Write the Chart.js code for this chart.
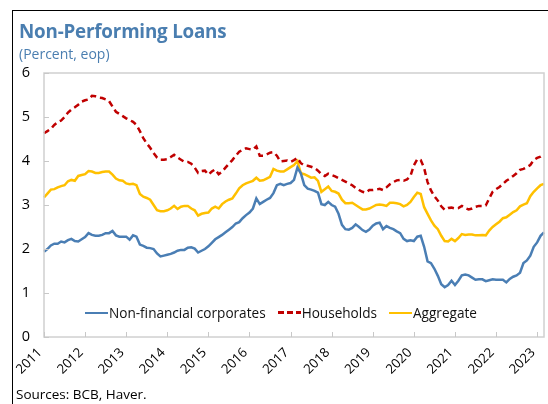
<!DOCTYPE html>
<html>
<head>
<meta charset="utf-8">
<script src="https://cdn.jsdelivr.net/npm/chart.js@4.4.1/dist/chart.umd.min.js"></script>
<style>
  html, body { margin: 0; padding: 0; background: #ffffff; }
  #wrap { position: relative; width: 548px; height: 404px; overflow: hidden; background: #fff; font-family: "Open Sans", "Noto Sans", sans-serif; }
  #frame { position: absolute; left: 12px; top: 10px; width: 600px; height: 500px; border-left: 1.5px solid #000; border-top: 1.5px solid #000; box-sizing: border-box; }
  #title { position: absolute; left: 19px; top: 18px; font-size: 18.8px; font-weight: 700; color: #4a7eb0; white-space: nowrap; letter-spacing: -0.2px; }
  #subtitle { position: absolute; left: 19px; top: 44px; font-size: 14px; color: #4a7eb0; white-space: nowrap; }
  #source { position: absolute; left: 16px; top: 385px; font-size: 13.5px; color: #000; white-space: nowrap; }
  #chart { position: absolute; left: 0; top: 0; }
  #legend { position: absolute; left: 85px; top: 303px; display: flex; align-items: center; font-size: 13.6px; color: #111; white-space: nowrap; }
  .item { display: flex; align-items: center; margin-right: 12px; }
  .sw { width: 23px; height: 0; margin-right: 1px; }
</style>
</head>
<body>
<div id="wrap">
  <canvas id="chart" width="548" height="404"></canvas>
  <div id="frame"></div>
  <div id="title">Non-Performing Loans</div>
  <div id="subtitle">(Percent, eop)</div>
  <div id="legend"></div>
  <div id="source">Sources: BCB, Haver.</div>
</div>
<script>
// ---- data (monthly, Jan 2011 - Mar 2023) ----
const years = ['2011','2012','2013','2014','2015','2016','2017','2018','2019','2020','2021','2022','2023'];
const monthNames = ['Jan','Feb','Mar','Apr','May','Jun','Jul','Aug','Sep','Oct','Nov','Dec'];
const nPoints = 147;
const categories = [];
for (let i = 0; i < nPoints; i++) {
  categories.push(monthNames[i % 12] + '-' + years[Math.floor(i / 12)]);
}
const yTicks = [0, 1, 2, 3, 4, 5, 6];

const seriesNames = ['Non-financial corporates', 'Households', 'Aggregate'];

const nonFinancialCorporates = [
  1.94,2.00,2.08,2.12,2.12,2.17,2.15,2.20,2.23,2.18,2.17,2.22,
  2.27,2.36,2.32,2.30,2.30,2.32,2.36,2.36,2.41,2.31,2.28,2.28,
  2.28,2.21,2.31,2.28,2.10,2.07,2.03,2.02,2.00,1.90,1.83,1.85,
  1.87,1.89,1.92,1.96,1.98,1.98,2.03,2.04,2.01,1.92,1.96,2.00,
  2.06,2.14,2.22,2.27,2.32,2.38,2.44,2.50,2.58,2.61,2.70,2.77,
  2.83,2.92,3.15,3.02,3.07,3.12,3.16,3.27,3.45,3.48,3.45,3.48,
  3.50,3.57,3.85,3.72,3.45,3.37,3.35,3.32,3.28,3.02,3.00,3.07,
  3.00,2.96,2.80,2.55,2.45,2.44,2.48,2.56,2.50,2.43,2.39,2.44,
  2.53,2.58,2.60,2.45,2.52,2.48,2.45,2.40,2.36,2.23,2.18,2.20,
  2.18,2.28,2.30,2.05,1.72,1.68,1.55,1.39,1.20,1.13,1.18,1.28,
  1.18,1.28,1.40,1.42,1.40,1.35,1.30,1.31,1.31,1.27,1.29,1.31,
  1.30,1.30,1.30,1.24,1.32,1.37,1.40,1.46,1.68,1.74,1.85,2.05,
  2.15,2.30,2.38
];

const households = [
  4.63,4.68,4.73,4.82,4.88,4.92,5.00,5.10,5.17,5.22,5.28,5.35,
  5.38,5.40,5.48,5.47,5.44,5.43,5.40,5.36,5.24,5.12,5.07,5.02,
  4.97,4.93,4.89,4.82,4.68,4.52,4.40,4.30,4.18,4.08,4.03,4.03,
  4.04,4.09,4.14,4.08,4.03,3.98,3.98,3.94,3.85,3.73,3.77,3.78,
  3.69,3.76,3.81,3.70,3.76,3.85,3.94,4.02,4.12,4.21,4.25,4.29,
  4.27,4.26,4.33,4.12,4.12,4.15,4.19,4.20,4.12,3.99,4.00,4.01,
  3.98,4.02,4.07,3.95,3.90,3.89,3.87,3.84,3.78,3.70,3.66,3.71,
  3.68,3.65,3.61,3.57,3.53,3.49,3.45,3.39,3.34,3.30,3.28,3.34,
  3.34,3.35,3.37,3.34,3.40,3.47,3.52,3.56,3.57,3.55,3.58,3.66,
  3.90,4.04,4.02,3.84,3.52,3.33,3.20,3.10,2.97,2.89,2.93,2.94,
  2.92,2.93,2.98,2.93,2.90,2.92,2.96,2.98,2.98,2.99,3.15,3.30,
  3.36,3.41,3.48,3.55,3.60,3.66,3.72,3.80,3.82,3.86,3.91,4.02,
  4.07,4.10,4.15
];

const aggregate = [
  3.17,3.26,3.35,3.36,3.40,3.43,3.45,3.54,3.57,3.55,3.66,3.68,
  3.70,3.77,3.76,3.73,3.73,3.75,3.76,3.76,3.69,3.60,3.56,3.55,
  3.49,3.47,3.48,3.45,3.25,3.19,3.16,3.12,3.00,2.88,2.86,2.86,
  2.88,2.92,2.98,2.91,2.96,2.98,2.98,2.92,2.88,2.76,2.80,2.82,
  2.83,2.92,2.96,2.92,3.02,3.08,3.12,3.15,3.26,3.38,3.45,3.49,
  3.52,3.55,3.62,3.55,3.56,3.60,3.64,3.82,3.78,3.76,3.76,3.81,
  3.86,3.91,4.00,3.72,3.70,3.66,3.62,3.63,3.55,3.30,3.36,3.42,
  3.32,3.30,3.26,3.12,3.04,3.04,3.05,3.00,2.95,2.90,2.90,2.92,
  2.96,3.00,3.01,3.00,2.98,3.05,3.05,3.04,3.02,2.97,3.00,3.07,
  3.18,3.28,3.25,2.95,2.80,2.65,2.53,2.45,2.30,2.18,2.17,2.23,
  2.18,2.25,2.34,2.32,2.33,2.33,2.31,2.31,2.32,2.31,2.42,2.50,
  2.56,2.62,2.70,2.72,2.78,2.84,2.88,2.97,3.01,3.04,3.20,3.30,
  3.38,3.45,3.48
];

// ---- styles ----
const colors = ['#4a7eb4', '#c00000', '#ffc000'];
const dashes = [[], [6, 4], []];

// ---- legend (HTML) ----
const legendEl = document.getElementById('legend');
seriesNames.forEach((name, k) => {
  const item = document.createElement('div');
  item.className = 'item';
  const sw = document.createElement('div');
  sw.className = 'sw';
  sw.style.borderTop = '2.5px solid ' + colors[k];
  if (k === 1) { sw.style.borderTop = 'none'; sw.style.height = '2.5px';
    sw.style.background = 'repeating-linear-gradient(90deg,' + colors[k] + ' 0 6px, transparent 6px 9px)'; }
  const tx = document.createElement('span');
  tx.textContent = name;
  item.appendChild(sw); item.appendChild(tx);
  legendEl.appendChild(item);
});

// ---- frame + inside ticks plugin ----
const framePlugin = {
  id: 'frameTicks',
  afterDraw(chart) {
    const { ctx, chartArea: a, scales } = chart;
    ctx.save();
    ctx.strokeStyle = '#d0d0d0';
    ctx.lineWidth = 1.5;
    ctx.strokeRect(a.left, a.top, a.right - a.left, a.bottom - a.top);
    ctx.strokeStyle = '#c8c8c8';
    ctx.lineWidth = 1;
    ctx.beginPath();
    yTicks.forEach(v => {
      const y = Math.round(scales.y.getPixelForValue(v)) + 0.5;
      ctx.moveTo(a.left, y); ctx.lineTo(a.left + 5, y);
    });
    years.forEach((yr, k) => {
      const x = Math.round(scales.x.getPixelForValue(k * 12)) + 0.5;
      ctx.moveTo(x, a.bottom); ctx.lineTo(x, a.bottom - 5);
    });
    ctx.stroke();
    ctx.restore();
  }
};

const seriesData = [nonFinancialCorporates, households, aggregate];

new Chart(document.getElementById('chart'), {
  type: 'line',
  data: {
    labels: categories,
    datasets: seriesData.map((d, k) => ({
      label: seriesNames[k],
      data: d,
      borderColor: colors[k],
      backgroundColor: colors[k],
      borderWidth: 2.5,
      borderDash: dashes[k],
      pointRadius: 0,
      tension: 0,
      fill: false,
      order: k === 0 ? 1 : (k === 1 ? 2 : 3)
    }))
  },
  options: {
    responsive: false,
    animation: false,
    devicePixelRatio: 1,
    layout: { padding: { left: 18, right: 4, top: 73, bottom: 27 } },
    plugins: { legend: { display: false }, tooltip: { enabled: false }, title: { display: false } },
    scales: {
      x: {
        type: 'category',
        offset: false,
        grid: { display: false, drawTicks: false },
        border: { display: false },
        ticks: {
          autoSkip: false,
          maxRotation: 45,
          minRotation: 45,
          padding: 8,
          labelOffset: -4,
          color: '#000',
          font: { family: '"Open Sans", "Noto Sans", sans-serif', size: 13.2 },
          callback: function (val, idx) { return idx % 12 === 0 ? years[idx / 12] : null; }
        },
        afterFit(scale) { scale.height = 40; scale.paddingLeft = 0; scale.paddingRight = 0; scale.paddingTop = 0; scale.paddingBottom = 0; }
      },
      y: {
        min: 0,
        max: 6,
        grid: { display: false, drawTicks: false },
        border: { display: false },
        ticks: {
          stepSize: 1,
          padding: 14,
          color: '#000',
          font: { family: '"Open Sans", "Noto Sans", sans-serif', size: 14.5 },
          callback: v => String(v)
        },
        afterFit(scale) { scale.width = 26; scale.paddingTop = 0; scale.paddingBottom = 0; }
      }
    }
  },
  plugins: [framePlugin]
});
</script>
</body>
</html>
